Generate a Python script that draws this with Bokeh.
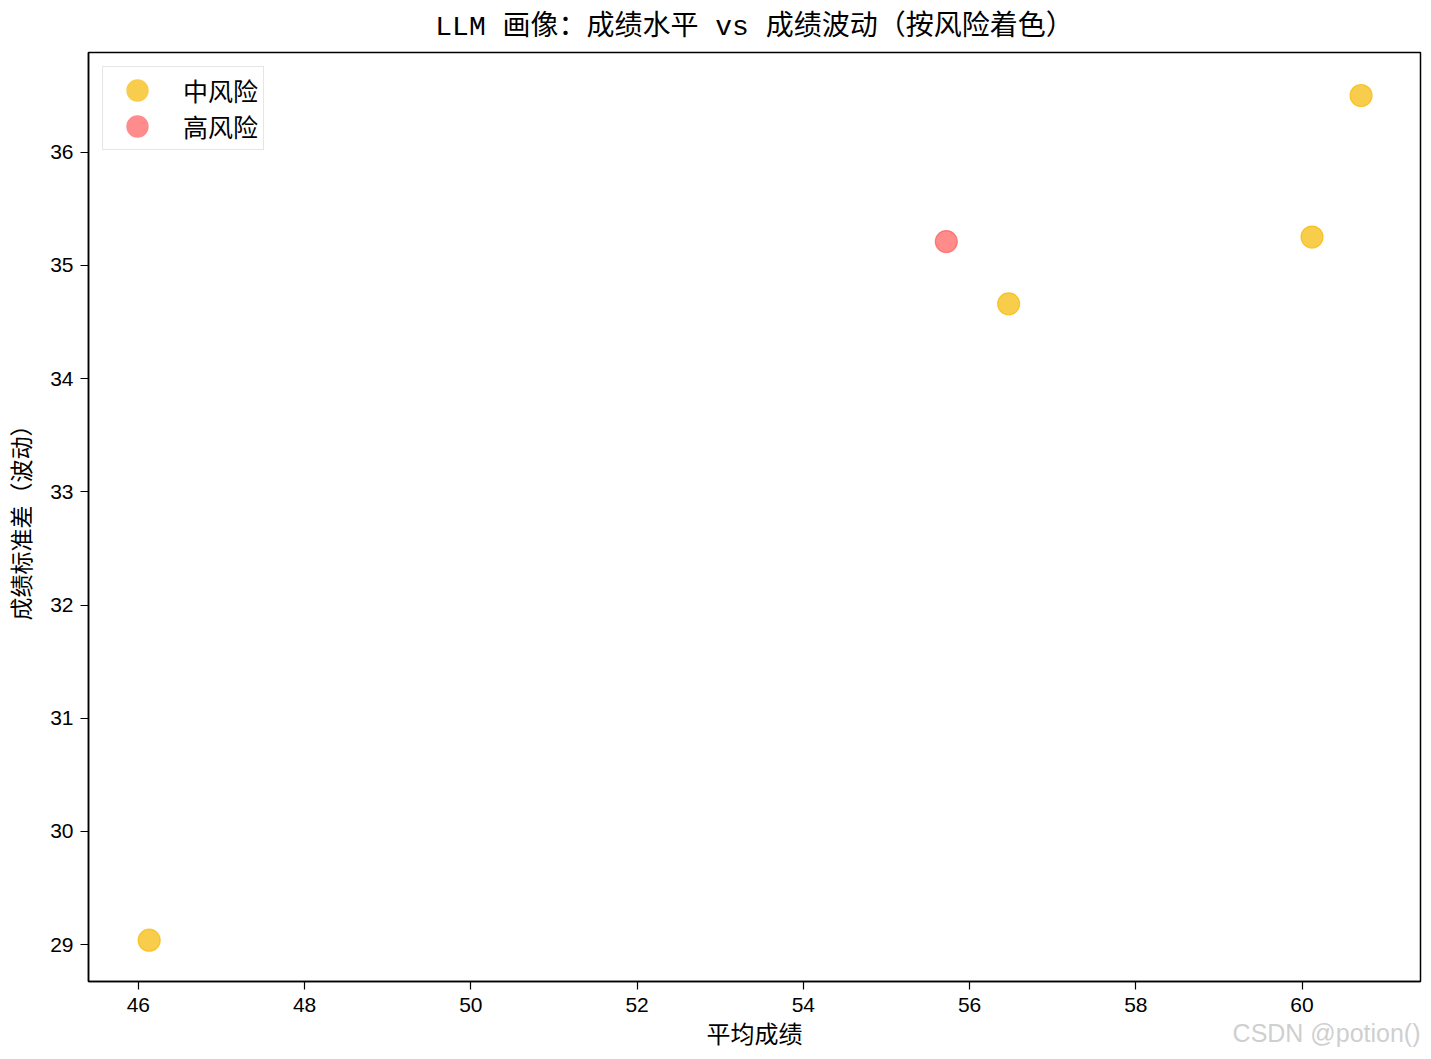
from bokeh.plotting import figure
from bokeh.models import FixedTicker, Range1d, Legend, LegendItem, Label, ColumnDataSource
from bokeh.embed import file_html
from bokeh.resources import INLINE

title_text = "LLM 画像：成绩水平 vs 成绩波动（按风险着色）"
x_label = "平均成绩"
y_label = "成绩标准差（波动）"
watermark = "CSDN @potion()"

mid_x = [46.13, 56.47, 60.12, 60.71]
mid_y = [29.04, 34.66, 35.25, 36.50]
high_x = [55.72]
high_y = [35.21]

x_ticks = [46, 48, 50, 52, 54, 56, 58, 60]
y_ticks = [29, 30, 31, 32, 33, 34, 35, 36]

CJK = "Noto Sans CJK SC"
TITLE_FONT = "Liberation Mono, Noto Sans CJK SC"
NUM = "Liberation Sans"

p = figure(frame_width=1332, frame_height=929, output_backend="svg", toolbar_location=None,
           x_range=Range1d(45.40, 61.425), y_range=Range1d(28.675, 36.88),
           min_border_left=0, min_border_right=2, min_border_top=0, min_border_bottom=0)

p.title.text = title_text
p.title.align = "center"
p.title.text_font = TITLE_FONT
p.title.text_font_size = "28px"
p.title.text_font_style = "normal"
p.title.text_color = "black"
p.title.standoff = 19

p.xgrid.visible = False
p.ygrid.visible = False
p.outline_line_color = "black"
p.outline_line_width = 1.5
p.outline_line_alpha = 1.0

for ax in (p.xaxis[0], p.yaxis[0]):
    ax.major_label_text_font = NUM
    ax.major_label_text_font_size = "21px"
    ax.major_label_text_color = "black"
    ax.axis_label_text_font = CJK
    ax.axis_label_text_font_style = "normal"
    ax.axis_label_text_color = "black"
    ax.minor_tick_line_color = None
    ax.major_tick_out = 8
    ax.major_tick_in = 0
    ax.major_tick_line_color = "black"
    ax.major_tick_line_width = 1.2
    ax.axis_line_color = "black"
    ax.axis_line_width = 1.5

p.xaxis[0].ticker = FixedTicker(ticks=x_ticks)
p.yaxis[0].ticker = FixedTicker(ticks=y_ticks)
p.xaxis[0].axis_label = x_label
p.yaxis[0].axis_label = y_label
p.xaxis[0].axis_label_text_font_size = "24px"
p.yaxis[0].axis_label_text_font_size = "23px"
p.xaxis[0].axis_label_standoff = 0
p.yaxis[0].axis_label_standoff = 10
p.xaxis[0].major_label_standoff = 8
p.yaxis[0].major_label_standoff = 7

src_mid = ColumnDataSource(dict(x=mid_x, y=mid_y))
src_high = ColumnDataSource(dict(x=high_x, y=high_y))

r_mid = p.scatter("x", "y", source=src_mid, size=22, marker="circle",
                  fill_color="#F5B800", fill_alpha=0.7,
                  line_color="#F5B800", line_alpha=0.7, line_width=1.2)
r_high = p.scatter("x", "y", source=src_high, size=22, marker="circle",
                   fill_color="#FF5A5A", fill_alpha=0.7,
                   line_color="#FF5A5A", line_alpha=0.7, line_width=1.2)

# hidden copies used only as legend keys, drawn with a thick stroke for larger disks
k_mid = p.scatter("x", "y", source=src_mid, marker="circle",
                  fill_color="#F8CD4D", line_color="#F8CD4D", line_width=8, visible=False)
k_high = p.scatter("x", "y", source=src_high, marker="circle",
                   fill_color="#FF8C8C", line_color="#FF8C8C", line_width=8, visible=False)

legend = Legend(items=[LegendItem(label="中风险", renderers=[k_mid]),
                       LegendItem(label="高风险", renderers=[k_high])],
                location="top_left")
legend.label_text_font = CJK
legend.label_text_font_size = "25px"
legend.label_text_color = "black"
legend.border_line_color = "#cccccc"
legend.border_line_width = 1.5
legend.background_fill_alpha = 0.9
legend.inactive_fill_alpha = 0.0
legend.glyph_width = 58
legend.glyph_height = 36
legend.label_standoff = 17
legend.label_height = 36
legend.spacing = 0
legend.padding = 5
legend.margin = 14
p.add_layout(legend)

wm = Label(x=1332, y=34, x_units="screen", y_units="screen", text=watermark,
           text_align="right", text_baseline="bottom", text_font=NUM,
           text_font_size="25px", text_color="#cfcfcf")
p.add_layout(wm, "below")

open("out.html", "w").write(file_html(p, INLINE))
